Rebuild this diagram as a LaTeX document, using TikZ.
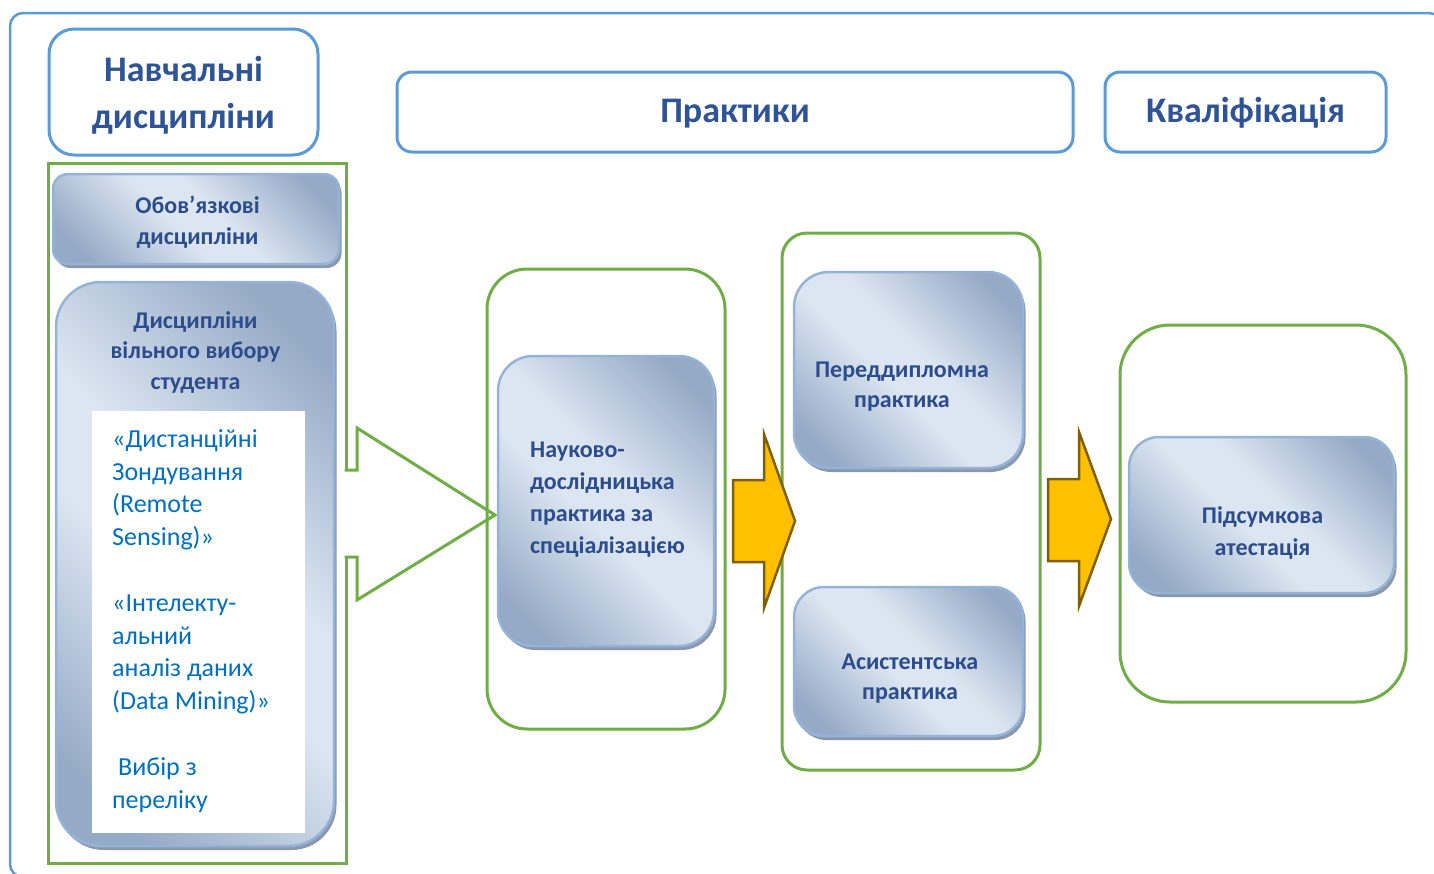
\documentclass[tikz,border=0pt]{standalone}
\usepackage{fontspec}
\setmainfont{Carlito}
\usetikzlibrary{shadows}
\definecolor{cFrame}{HTML}{5B9BD5}
\definecolor{cGreen}{HTML}{70AD47}
\definecolor{cHead}{HTML}{2F5496}
\definecolor{cBoxTxt}{HTML}{2C4C8C}
\definecolor{cList}{HTML}{0070C0}
\definecolor{cLt}{HTML}{DCE6F2}
\definecolor{cDk}{HTML}{95AAC6}
\definecolor{cEdge}{HTML}{95B3D7}
\definecolor{cShadow}{HTML}{8A98AC}
\definecolor{cOrange}{HTML}{FFC000}
\definecolor{cOrEdge}{HTML}{7F6000}
\pgfdeclarehorizontalshading{boxsh}{100bp}{color(0bp)=(cDk); color(22bp)=(cDk); color(45bp)=(cLt); color(55bp)=(cLt); color(78bp)=(cDk); color(100bp)=(cDk)}
\begin{document}
\begin{tikzpicture}[x=1pt,y=-1pt,
  hdrbox/.style={draw=cFrame, line width=3pt, fill=white, inner sep=0pt},
  grnbox/.style={draw=cGreen, line width=3pt, inner sep=0pt},
  shbox/.style={draw=cEdge, line width=2.5pt, shading=boxsh, shading angle=45, inner sep=0pt,
     drop shadow={shadow xshift=2.5pt, shadow yshift=-4pt, fill=cShadow, opacity=1}},
  hdrtxt/.style={text=cHead, font=\bfseries\fontsize{36}{47}\selectfont, align=center, inner sep=0pt, anchor=north},
  bxtxt/.style={text=cBoxTxt, font=\bfseries\fontsize{24}{31}\selectfont, align=center, inner sep=0pt, anchor=north},
  lsttxt/.style={text=cList, font=\fontsize{26}{32.5}\selectfont, align=left, inner sep=0pt, anchor=north west},
  orarrow/.style={fill=cOrange, draw=cOrEdge, line width=2.5pt, line join=miter}]
\useasboundingbox (0,0) rectangle (1434,873);
\clip (0,0) rectangle (1434,873);
% outer frame
\draw[cFrame, line width=2.5pt, rounded corners=13pt] (10,13) rectangle (1442,877);
% header boxes
\node[hdrbox, rounded corners=25pt, minimum width=269, minimum height=126] (nav) at (183.5,92) {};
\node[hdrbox, rounded corners=15pt, minimum width=676, minimum height=80] (prakt) at (735,112) {};
\node[hdrbox, rounded corners=15pt, minimum width=281, minimum height=80] (kval) at (1245.5,112) {};
\node[hdrtxt] (tnav) at (183.5,51) {\rule{0pt}{30pt}Навчальні\\дисципліни};
\node[hdrtxt] (tprakt) at (735,92) {\rule{0pt}{30pt}Практики};
\node[hdrtxt] (tkval) at (1245.5,92) {\rule{0pt}{30pt}Кваліфікація};
% left green rectangle
\node[grnbox, minimum width=298, minimum height=700] (left) at (197,513) {};
% hollow arrow
\fill[white] (344,470) -- (357,470) -- (357,428) -- (495,515) -- (357,600) -- (357,557) -- (344,557) -- cycle;
\draw[cGreen, line width=3pt, line join=miter] (344.5,470) -- (357,470) -- (357,428) -- (495,515) -- (357,600) -- (357,557) -- (344.5,557);
% green rounded boxes
\node[grnbox, rounded corners=40pt, minimum width=238, minimum height=460] (g2) at (606,499) {};
\node[grnbox, rounded corners=25pt, minimum width=258, minimum height=537] (g3) at (911,501.5) {};
\node[grnbox, rounded corners=50pt, minimum width=286, minimum height=377] (g4) at (1263,513.5) {};
% shaded boxes
\node[shbox, rounded corners=15pt, minimum width=286, minimum height=90] (oboz) at (196,219) {};
\node[shbox, rounded corners=45pt, minimum width=278, minimum height=564] (vilny) at (195,564) {};
\node[fill=white, inner sep=0pt, minimum width=213, minimum height=422] (wbox) at (198.5,622) {};
\node[shbox, rounded corners=35pt, minimum width=216, minimum height=290] (nauk) at (606,501) {};
\node[shbox, rounded corners=35pt, minimum width=229, minimum height=196] (pered) at (908.5,370) {};
\node[shbox, rounded corners=30pt, minimum width=229, minimum height=149] (asist) at (908.5,661.5) {};
\node[shbox, rounded corners=30pt, minimum width=265, minimum height=156] (pidsum) at (1261.5,515) {};
% texts
\node[bxtxt] (toboz) at (197.5,193.5) {\rule{0pt}{20pt}Обов’язкові\\дисципліни};
\node[bxtxt, font=\bfseries\fontsize{24}{30.5}\selectfont] (tvilny) at (195.5,308) {\rule{0pt}{20pt}Дисципліни\\вільного вибору\\студента};
\node[lsttxt] (tlist) at (112,425.5) {\rule{0pt}{22pt}«Дистанційні\\Зондування\\(Remote\\Sensing)»\\[34pt]«Інтелекту-\\альний\\аналіз даних\\(Data Mining)»\\[34pt]\hspace*{6pt}Вибір з\\переліку};
\node[bxtxt, font=\bfseries\fontsize{24}{32}\selectfont, align=left, anchor=north west] (tnauk) at (530,437) {\rule{0pt}{20pt}Науково-\\дослідницька\\практика за\\спеціалізацією};
\node[bxtxt, font=\bfseries\fontsize{24}{30}\selectfont] (tpered) at (902,357) {\rule{0pt}{20pt}Переддипломна\\практика};
\node[bxtxt, font=\bfseries\fontsize{24}{30}\selectfont] (tasist) at (910,649) {\rule{0pt}{20pt}Асистентська\\практика};
\node[bxtxt, font=\bfseries\fontsize{24}{32}\selectfont] (tpidsum) at (1262.5,503) {\rule{0pt}{20pt}Підсумкова\\атестація};
% orange arrows
\draw[orarrow] (733,480) -- (764,480) -- (764,434) -- (795,521) -- (764,608) -- (764,562) -- (733,562) -- cycle;
\draw[orarrow] (1048,479) -- (1079,479) -- (1079,432) -- (1111,519) -- (1079,606) -- (1079,561) -- (1048,561) -- cycle;
\end{tikzpicture}
\end{document}
